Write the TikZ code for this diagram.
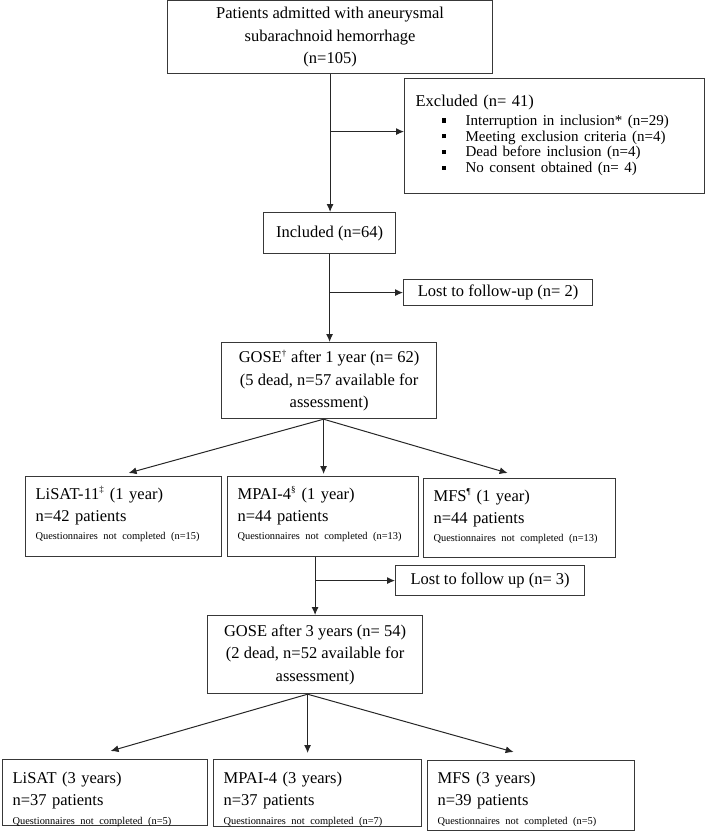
\documentclass[tikz,border=0pt]{standalone}
\usepackage{fontspec}
\setmainfont{Liberation Serif}
\usetikzlibrary{arrows.meta,positioning}

\newcommand{\sqbul}{\rule[2.6pt]{4.2pt}{4.2pt}}
\newcommand{\qsmall}{\fontsize{10.4}{12.5}\selectfont}
\newcommand{\sups}[1]{\textsuperscript{\fontsize{9}{9}\selectfont #1}}

\tikzset{
  box/.style={draw=black!78, line width=1.2pt, inner sep=0pt, align=center,
    font=\fontsize{16.5}{22.5}\selectfont},
  qbox/.style={box, anchor=north west, align=left, inner xsep=10pt, inner ysep=0pt},
  flow/.style={draw=black!85, line width=1pt, -{Latex[length=8pt,width=7pt]}}
}

\begin{document}
\begin{tikzpicture}[x=1pt,y=-1pt]
\useasboundingbox (0,0) rectangle (709,832);

% main column
\node[box, anchor=north west, minimum width=325pt, minimum height=73pt] (admit) at (167,0)
  {Patients admitted with aneurysmal\\subarachnoid hemorrhage\\(n=105)};
\node[box, anchor=north west, align=left, inner xsep=11pt, inner ysep=0pt,
  text width=278pt, text height=27.5pt, text depth=87.5pt] (excl) at (404,78)
  {Excluded (n= 41)\\[3.5pt]
   {\fontsize{15}{15.7}\selectfont
   \hspace*{26pt}\makebox[24pt][l]{\sqbul}Interruption in inclusion* (n=29)\\
   \hspace*{26pt}\makebox[24pt][l]{\sqbul}Meeting exclusion criteria (n=4)\\
   \hspace*{26pt}\makebox[24pt][l]{\sqbul}Dead before inclusion (n=4)\\
   \hspace*{26pt}\makebox[24pt][l]{\sqbul}No consent obtained (n= 4)\par}};
\node[box, anchor=north west, minimum width=132pt, minimum height=41pt] (incl) at (263,212)
  {Included (n=64)};
\node[box, anchor=north west, minimum width=189pt, minimum height=26pt] (lost1) at (403,279)
  {Lost to follow-up (n= 2)};
\node[box, anchor=north west, minimum width=215pt, minimum height=76pt] (gose1) at (221,342)
  {GOSE\sups{\textdagger} after 1 year (n= 62)\\(5 dead, n=57 available for\\assessment)};

% 1 year questionnaires
\node[qbox, text width=176pt, text height=22.5pt, text depth=57.5pt] (lisat1) at (25,476)
  {LiSAT-11\sups{\textdaggerdbl} (1 year)\\n=42 patients\\[-5pt]{\qsmall Questionnaires not completed (n=15)}};
\node[qbox, text width=171pt, text height=22.5pt, text depth=57.5pt] (mpai1) at (227,476)
  {MPAI-4\sups{\S} (1 year)\\n=44 patients\\[-5pt]{\qsmall Questionnaires not completed (n=13)}};
\node[qbox, text width=172pt, text height=22.5pt, text depth=56.5pt] (mfs1) at (423,478)
  {MFS\sups{\P} (1 year)\\n=44 patients\\[-5pt]{\qsmall Questionnaires not completed (n=13)}};

\node[box, anchor=north west, minimum width=189pt, minimum height=30pt] (lost2) at (395,565)
  {Lost to follow up (n= 3)};
\node[box, anchor=north west, minimum width=215pt, minimum height=78pt] (gose3) at (207,615)
  {GOSE after 3 years (n= 54)\\(2 dead, n=52 available for\\assessment)};

% 3 year questionnaires
\node[qbox, text width=185pt, text height=23.5pt, text depth=42.5pt] (lisat3) at (2,759)
  {LiSAT (3 years)\\n=37 patients\\[-4pt]{\qsmall Questionnaires not completed (n=5)}};
\node[qbox, text width=188pt, text height=23.5pt, text depth=43.5pt] (mpai3) at (213,759)
  {MPAI-4 (3 years)\\n=37 patients\\[-4pt]{\qsmall Questionnaires not completed (n=7)}};
\node[qbox, text width=187pt, text height=22.5pt, text depth=47.5pt] (mfs3) at (427,760)
  {MFS (3 years)\\n=39 patients\\[-4pt]{\qsmall Questionnaires not completed (n=5)}};

% connectors
\coordinate (fork1) at ([xshift=-5.5pt]gose1.south);
\coordinate (fork3) at ([xshift=-7.5pt]gose3.south);
\draw[flow] (admit.south) -- (admit.south |- incl.north);
\draw[flow] (admit.south |- excl.west) ++(0,-4.5) -- ([yshift=4.5pt]excl.west);
\draw[flow] (incl.south) -- (incl.south |- gose1.north);
\draw[flow] (incl.south |- lost1.west) -- (lost1.west);
\draw[flow] (fork1) -- ([xshift=5pt,yshift=3pt]lisat1.north);
\draw[flow] (fork1) -- ([yshift=2pt]fork1 |- mpai1.north);
\draw[flow] (fork1) -- ([xshift=-12pt,yshift=5pt]mfs1.north);
\draw[flow] (gose3.north |- mpai1.south) -- (gose3.north);
\draw[flow] (gose3.north |- lost2.west) -- (lost2.west);
\draw[flow] (fork3) -- ([xshift=5.5pt,yshift=8pt]lisat3.north);
\draw[flow] (fork3) -- ([yshift=6pt]fork3 |- mpai3.north);
\draw[flow] (fork3) -- ([xshift=-17.5pt,yshift=8pt]mfs3.north);
\end{tikzpicture}
\end{document}
